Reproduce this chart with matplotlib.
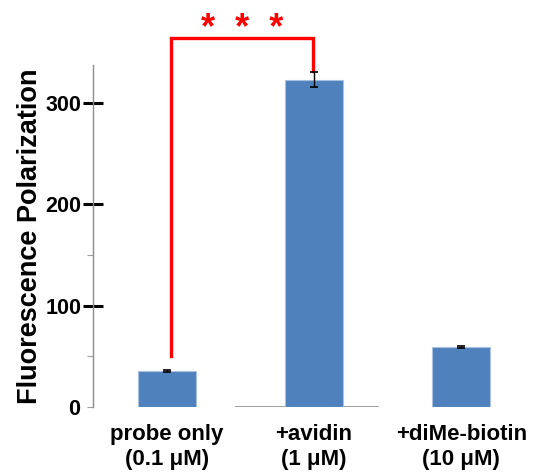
import matplotlib
matplotlib.use("Agg")
import matplotlib.pyplot as plt
from matplotlib.lines import Line2D

categories = ["probe only\n(0.1 μM)", "+avidin\n(1 μM)", "+diMe-biotin\n(10 μM)"]
values = [35.5, 322.3, 59.0]
errors = [0.8, 7.4, 1.0]
yticks_major = [100, 200, 300]
yticks_minor = [0, 50, 150]
sig_text = "*  *  *"

plt.rcParams['font.family'] = ['Liberation Sans', 'DejaVu Sans']

fig = plt.figure(figsize=(5.35, 4.72), dpi=100)
ax = fig.add_axes([0.174, 0.1377, 0.826, 0.7245])

x = list(range(len(categories)))
ax.bar(x, values, width=0.395, color='#4F81BD', edgecolor='#A9C1E0', linewidth=0.8,
       yerr=errors, error_kw=dict(ecolor='black', elinewidth=1.0, capsize=3, capthick=1.2),
       zorder=2)

ax.set_xlim(-0.5, 2.5)
ax.set_ylim(0, 337)

for s in ['top', 'right', 'bottom']:
    ax.spines[s].set_visible(False)
ax.spines['left'].set_color('#8c8c8c')
ax.spines['left'].set_linewidth(1.0)

ax.axhline(0, xmin=0.324, xmax=0.645, color='#8c8c8c', lw=1.2, zorder=1)

ax.set_yticks(yticks_major)
ax.set_yticklabels([str(v) for v in yticks_major])
ax.set_yticks(yticks_minor, minor=True)
ax.set_yticklabels(["0", "", ""], minor=True)
ax.tick_params(axis='y', which='major', direction='inout', length=15, width=2.2, color='black',
               labelsize=15.5, pad=1)
ax.tick_params(axis='y', which='minor', direction='out', length=4.3, width=0.8, color='#a0a0a0',
               labelsize=15.5, pad=5)
for lab in ax.get_yticklabels() + ax.get_yticklabels(minor=True):
    lab.set_fontweight('bold')

ax.set_xticks(x)
ax.set_xticklabels(categories, fontsize=16, fontweight='bold', linespacing=1.2)
ax.tick_params(axis='x', length=0, pad=12.5)

ax.set_ylabel("Fluorescence Polarization", fontsize=19.5, fontweight='bold', labelpad=2)

# significance bracket
x_left = 0.03
x_right = 0.995
y_top = 364
ax.add_line(Line2D([x_left, x_left, x_right, x_right], [50, y_top, y_top, 331],
                   color='red', lw=2.4, clip_on=False, solid_joinstyle='miter'))
ax.text((x_left + x_right) / 2 + 0.0, 372, sig_text, color='red', fontsize=26,
        fontweight='bold', ha='center', va='center', clip_on=False)

fig.savefig("out.png", dpi=100)
